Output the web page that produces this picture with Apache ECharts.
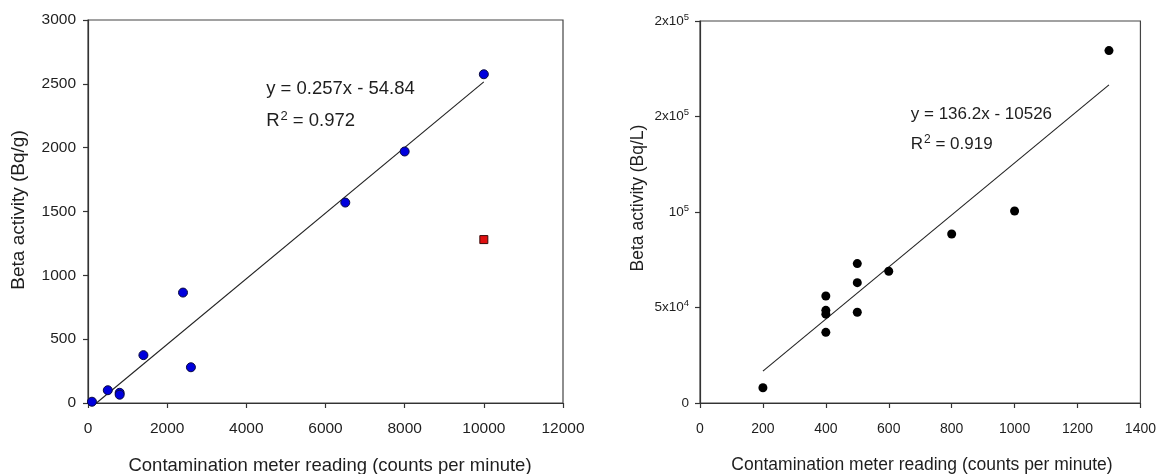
<!DOCTYPE html>
<html>
<head>
<meta charset="utf-8">
<script src="https://cdn.jsdelivr.net/npm/echarts@6/dist/echarts.min.js"></script>
<style>
  html, body { margin: 0; padding: 0; background: #fff; }
  #chart { width: 1159px; height: 474px; }
</style>
</head>
<body>
<div id="chart"></div>
<script>
// Soil samples (Bq/g) against contamination meter counts
const soilCpm      = [100, 500, 800, 800, 1400, 2400, 2600, 6500, 8000, 10000];
const soilActivity = [10, 100, 80, 65, 375, 865, 280, 1570, 1970, 2575];
// Sample excluded from the fit
const outlierCpm      = [10000];
const outlierActivity = [1280];
// Fit for soil samples
const soilFit = { slope: 0.257, intercept: -54.84, xFrom: 213, xTo: 10000, r2: '0.972' };

// Water samples (Bq/L) against contamination meter counts
const waterCpm      = [200, 400, 400, 400, 400, 500, 500, 500, 600, 800, 1000, 1300];
const waterActivity = [8000, 56000, 48500, 46500, 37000, 73000, 63000, 47500, 69000, 88500, 100500, 184500];
const waterFit = { slope: 136.2, intercept: -10526, xFrom: 200, xTo: 1300, r2: '0.919' };

// Tick labels for the water activity axis (as printed, rounded to one digit)
const waterYTicks = { 0: ['0', ''], 50000: ['5x10', '4'], 100000: ['10', '5'], 150000: ['2x10', '5'], 200000: ['2x10', '5'] };

const fitLine = f => [[f.xFrom, f.slope * f.xFrom + f.intercept], [f.xTo, f.slope * f.xTo + f.intercept]];
const fmt = n => (n < 0 ? ' - ' + Math.abs(n) : ' + ' + n);
const plain = v => String(v);

const FONT = 'Liberation Sans, Arial, sans-serif';
const INK = '#1e1e1e';
const axisLine = { show: true, lineStyle: { color: '#333', width: 1.2 } };
const axisTick = { show: true, inside: false, length: 5, lineStyle: { color: '#333', width: 1.2 } };

const chart = echarts.init(document.getElementById('chart'), null, { renderer: 'canvas' });

chart.setOption({
  animation: false,
  backgroundColor: '#fff',
  grid: [
    { left: 88, top: 20, width: 475, height: 383, show: true, borderColor: '#444', borderWidth: 1.2, backgroundColor: 'transparent' },
    { left: 700, top: 21, width: 441, height: 382, show: true, borderColor: '#444', borderWidth: 1.2, backgroundColor: 'transparent' }
  ],
  xAxis: [
    {
      gridIndex: 0, type: 'value', min: 0, max: 12000, interval: 2000,
      axisLine, axisTick, splitLine: { show: false },
      axisLabel: { margin: 18, formatter: plain, color: INK, fontFamily: FONT, fontSize: 15.5 }
    },
    {
      gridIndex: 1, type: 'value', min: 0, max: 1400, interval: 200,
      axisLine, axisTick, splitLine: { show: false },
      axisLabel: { margin: 19, formatter: plain, color: INK, fontFamily: FONT, fontSize: 14 }
    }
  ],
  yAxis: [
    {
      gridIndex: 0, type: 'value', min: 0, max: 3000, interval: 500,
      axisLine, axisTick, splitLine: { show: false },
      axisLabel: { margin: 12, formatter: plain, color: INK, fontFamily: FONT, fontSize: 15.5 }
    },
    {
      gridIndex: 1, type: 'value', min: 0, max: 200000, interval: 50000,
      axisLine, axisTick, splitLine: { show: false },
      axisLabel: {
        margin: 11,
        formatter: v => {
          const t = waterYTicks[v] || [String(v), ''];
          return t[1] ? '{b|' + t[0] + '}{s|' + t[1] + '}' : '{b|' + t[0] + '}';
        },
        rich: {
          b: { color: INK, fontFamily: FONT, fontSize: 13.5 },
          s: { color: INK, fontFamily: FONT, fontSize: 9.5, verticalAlign: 'top', padding: [0, 0, 8, 0] }
        }
      }
    }
  ],
  series: [
    {
      type: 'line', xAxisIndex: 0, yAxisIndex: 0, data: fitLine(soilFit),
      symbol: 'none', lineStyle: { color: '#222', width: 1.1 }, silent: true, z: 2
    },
    {
      type: 'scatter', xAxisIndex: 0, yAxisIndex: 0,
      data: soilCpm.map((x, i) => [x, soilActivity[i]]),
      symbol: 'circle', symbolSize: 9,
      itemStyle: { color: '#0000dd', borderColor: '#0a0a40', borderWidth: 1, opacity: 1 }, z: 3
    },
    {
      type: 'scatter', xAxisIndex: 0, yAxisIndex: 0,
      data: outlierCpm.map((x, i) => [x, outlierActivity[i]]),
      symbol: 'rect', symbolSize: 8,
      itemStyle: { color: '#e01010', borderColor: '#3a0a0a', borderWidth: 1, opacity: 1 }, z: 3
    },
    {
      type: 'line', xAxisIndex: 1, yAxisIndex: 1, data: fitLine(waterFit),
      symbol: 'none', lineStyle: { color: '#222', width: 1.1 }, silent: true, z: 2
    },
    {
      type: 'scatter', xAxisIndex: 1, yAxisIndex: 1,
      data: waterCpm.map((x, i) => [x, waterActivity[i]]),
      symbol: 'circle', symbolSize: 9,
      itemStyle: { color: '#000', borderWidth: 0, opacity: 1 }, z: 3
    }
  ]
});

// Axis titles and fit equations
function centeredText(text, x, y, size, rotation) {
  return {
    type: 'text', x, y, rotation: rotation || 0,
    style: { text, fill: INK, font: size + 'px ' + FONT, align: 'center', verticalAlign: 'middle' }
  };
}
function eqLines(f, at, size, gap) {
  return [
    { type: 'text', x: at[0], y: at[1],
      style: { text: 'y = ' + f.slope + 'x' + fmt(f.intercept), fill: INK, font: size + 'px ' + FONT, verticalAlign: 'middle' } },
    { type: 'text', x: at[0], y: at[1] + gap,
      style: {
        text: '{t|R}{s|2}{t| = ' + f.r2 + '}', verticalAlign: 'middle',
        rich: {
          t: { fill: INK, fontFamily: FONT, fontSize: size },
          s: { fill: INK, fontFamily: FONT, fontSize: Math.round(size * 0.72), verticalAlign: 'top', padding: [0, 0, 9, 1] }
        }
      } }
  ];
}
const p1 = chart.convertToPixel({ gridIndex: 0 }, [4500, 2460]);
const p2 = chart.convertToPixel({ gridIndex: 1 }, [670, 151000]);
chart.setOption({
  graphic: [
    centeredText('Contamination meter reading (counts per minute)', 330, 466, 18.5),
    centeredText('Contamination meter reading (counts per minute)', 922, 465, 17.5),
    centeredText('Beta activity (Bq/g)', 19, 210, 19, Math.PI / 2),
    centeredText('Beta activity (Bq/L)', 638, 198, 17.5, Math.PI / 2)
  ].concat(eqLines(soilFit, p1, 18.5, 32), eqLines(waterFit, p2, 17, 30))
});
</script>
</body>
</html>
